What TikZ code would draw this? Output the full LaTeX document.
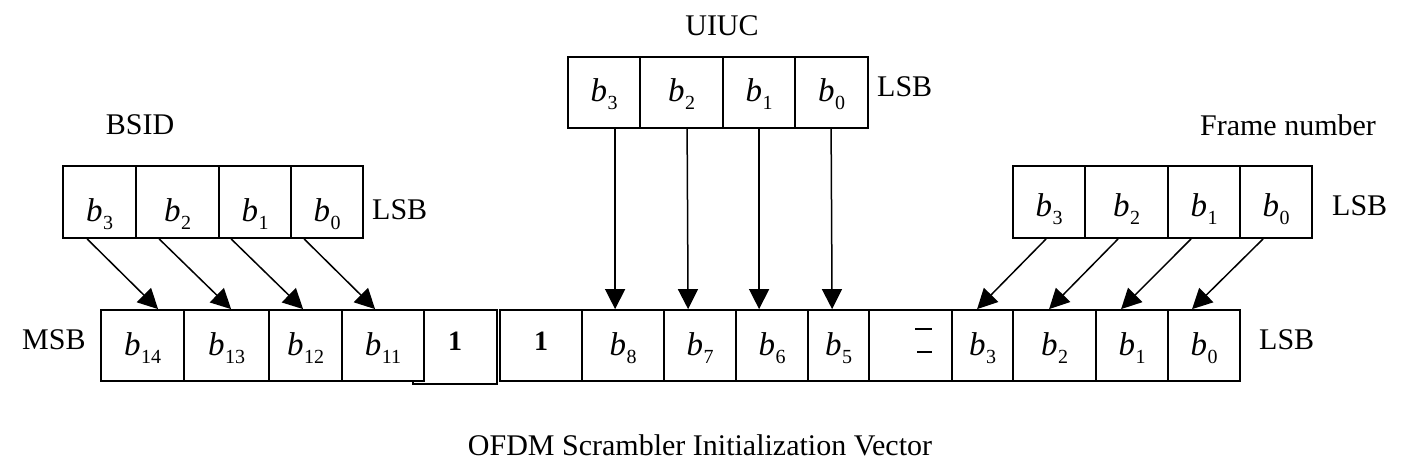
\documentclass[tikz,border=0pt]{standalone}
\usepackage{fontspec}
\setmainfont{Liberation Serif}
\usetikzlibrary{arrows.meta,calc}
\newcommand{\bsub}[1]{{\fontsize{33}{33}\selectfont\itshape b}\kern0.5pt\raisebox{-8pt}{\fontsize{20}{20}\selectfont #1}}
\newcommand{\bone}{{\fontsize{28}{28}\selectfont\bfseries 1}}
\begin{document}
\begin{tikzpicture}[x=1pt,y=-1pt,
  cellbox/.style={draw, line width=1.8pt, fill=white, inner sep=0pt, minimum height=71pt, text height=29pt, text depth=10pt},
  highcell/.style={cellbox, minimum height=72pt, text height=45pt, text depth=5pt},
  framecell/.style={cellbox, minimum height=72pt, text height=36pt, text depth=8pt},
  lbl/.style={inner sep=0pt, font=\fontsize{30}{36}\selectfont},
  conn/.style={line width=1.5pt, -{Triangle[length=20pt,width=20pt]}},
]
\useasboundingbox[fill=white] (0,0) rectangle (1406,476);

% bottom row
\node[cellbox, minimum width=84pt, minimum height=74pt, text height=20pt, text depth=14pt] (one1) at (455,347) {\bone};
\node[cellbox, minimum width=83pt] (b14) at (142.5,345.5) {\bsub{14}};
\node[cellbox, minimum width=85pt] (b13) at (226.5,345.5) {\bsub{13}};
\node[cellbox, minimum width=73pt] (b12) at (305.5,345.5) {\bsub{12}};
\node[cellbox, minimum width=82pt] (b11) at (383,345.5) {\bsub{11}};
\node[cellbox, minimum width=82pt, text height=21pt, text depth=12pt] (one2) at (541,345.5) {\bone};
\node[cellbox, minimum width=82pt] (b8) at (623,345.5) {\bsub{8}};
\node[cellbox, minimum width=72pt] (b7) at (700,345.5) {\bsub{7}};
\node[cellbox, minimum width=72pt] (b6) at (772,345.5) {\bsub{6}};
\node[cellbox, minimum width=61pt] (b5) at (838.5,345.5) {\bsub{5}};
\node[cellbox, minimum width=83pt] (gl) at (910.5,345.5) {};
\node[cellbox, minimum width=61pt] (r3) at (982.5,345.5) {\bsub{3}};
\node[cellbox, minimum width=83pt] (r2) at (1054.5,345.5) {\bsub{2}};
\node[cellbox, minimum width=72pt] (r1) at (1132,345.5) {\bsub{1}};
\node[cellbox, minimum width=72pt] (r0) at (1204,345.5) {\bsub{0}};
\draw[line width=1.3pt] ($(gl.center)+(4.5,-16.5)$) -- ($(gl.center)+(21.5,-16.5)$);
\draw[line width=1.3pt] ($(gl.center)+(6.5,6.5)$) -- ($(gl.center)+(21.5,6.5)$);

% UIUC
\node[cellbox, minimum width=72pt] (u3) at (604,92.5) {\bsub{3}};
\node[cellbox, minimum width=83pt] (u2) at (681.5,92.5) {\bsub{2}};
\node[cellbox, minimum width=72pt] (u1) at (759,92.5) {\bsub{1}};
\node[cellbox, minimum width=73pt] (u0) at (831.5,92.5) {\bsub{0}};

% BSID
\node[highcell, minimum width=73pt] (s3) at (99.5,202) {\bsub{3}};
\node[highcell, minimum width=83pt] (s2) at (177.5,202) {\bsub{2}};
\node[highcell, minimum width=72pt] (s1) at (255,202) {\bsub{1}};
\node[highcell, minimum width=72pt] (s0) at (327,202) {\bsub{0}};

% Frame number
\node[framecell, minimum width=72pt] (f3) at (1049,202) {\bsub{3}};
\node[framecell, minimum width=83pt] (f2) at (1126.5,202) {\bsub{2}};
\node[framecell, minimum width=72pt] (f1) at (1204,202) {\bsub{1}};
\node[framecell, minimum width=72pt] (f0) at (1276,202) {\bsub{0}};

% labels
\node[lbl] (tuiuc) at (722,26) {UIUC};
\node[lbl, anchor=base west] (luiuc) at (877,97) {LSB};
\node[lbl] (tbsid) at (140,125) {BSID};
\node[lbl, anchor=base west] (lbsid) at (372,219) {LSB};
\node[lbl] (tframe) at (1288,125) {Frame number};
\node[lbl, anchor=base west] (lframe) at (1332,215) {LSB};
\node[lbl, anchor=base west] (msb) at (22,349) {MSB};
\node[lbl, anchor=base west] (lsbb) at (1259,349) {LSB};
\node[lbl] (cap) at (700,445) {OFDM Scrambler Initialization Vector};

% arrows UIUC
\draw[conn] ($(u3.south west)+(48,0)$) -- ($(b8.north west)+(34,0)$);
\draw[conn] ($(u2.south west)+(48,0)$) -- ($(b7.north west)+(25,0)$);
\draw[conn] ($(u1.south west)+(37,0)$) -- ($(b6.north west)+(24,0)$);
\draw[conn] ($(u0.south west)+(37,0)$) -- ($(b5.north west)+(25,0)$);
% arrows BSID
\draw[conn] ($(s3.south west)+(25,0)$) -- ($(b14.north west)+(58,0)$);
\draw[conn] ($(s2.south west)+(24,0)$) -- ($(b13.north west)+(48,0)$);
\draw[conn] ($(s1.south west)+(13,0)$) -- ($(b12.north west)+(35,0)$);
\draw[conn] ($(s0.south west)+(14,0)$) -- ($(b11.north west)+(34,0)$);
% arrows Frame number
\draw[conn] ($(f3.south west)+(34,0)$) -- ($(r3.north west)+(26,0)$);
\draw[conn] ($(f2.south west)+(34,0)$) -- ($(r2.north west)+(37,0)$);
\draw[conn] ($(f1.south west)+(24,0)$) -- ($(r1.north west)+(26,0)$);
\draw[conn] ($(f0.south west)+(24,0)$) -- ($(r0.north west)+(25,0)$);
\end{tikzpicture}
\end{document}
